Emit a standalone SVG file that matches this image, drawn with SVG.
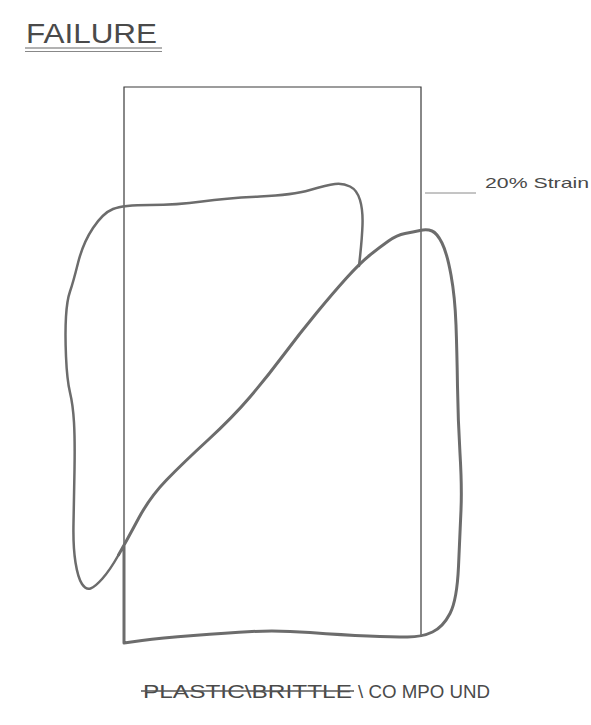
<svg xmlns="http://www.w3.org/2000/svg" width="591" height="725" viewBox="0 0 591 725">
<style>
.frame{fill:none;stroke:#3a3a3a;stroke-width:1.2}
.curve{fill:none;stroke:#6c6c6c;stroke-linecap:round;stroke-linejoin:round}
.lbl{font-family:"Liberation Sans",Arial,sans-serif;fill:#4a4a4a}
</style>
<rect width="591" height="725" fill="#ffffff"/>
<g id="title">
<text class="lbl" x="26" y="43" font-size="27" textLength="131" lengthAdjust="spacingAndGlyphs" style="font-weight:300">FAILURE</text>
<line x1="25" y1="48" x2="162" y2="48" stroke="#666" stroke-width="1.2"/>
<line x1="25" y1="51.5" x2="162" y2="51.5" stroke="#888" stroke-width="1"/>
</g>
<g id="frame">
<path class="frame" d="M124,643 L124,87 L421,87 L421,637"/>
</g>
<g id="strain-label">
<line x1="425" y1="193" x2="476" y2="193" stroke="#8a8a8a" stroke-width="1"/>
<text class="lbl" x="485" y="188" font-size="15" textLength="104" lengthAdjust="spacingAndGlyphs">20% Strain</text>
</g>
<g id="curves">
<path id="compound" class="curve" stroke-width="3" d="M124,545 L124,643 L142,640.5 Q160,638 193.5,635.5 Q227,633 252,631.5 Q277,630 310,632.5 Q343,635 368,636 Q393,637 407.5,637 Q422,637 432.5,632 Q443,627 450,613.5 Q457,600 458.5,566.5 Q460,533 461,510 Q462,487 460,453.5 Q458,420 457.5,386.5 Q457,353 456,325 Q455,297 451,275 Q447,253 442,243 Q437,233 432,231 Q427,229 420,230.5 Q413,232 405,233.5 Q397,235 388.5,241 Q380,247 370,255 Q360,263 346.5,278 Q333,293 316.5,313 Q300,333 283.5,355 Q267,377 250,397 Q233,417 208,440 Q183,463 166.5,480 Q150,497 138.5,518.5 Q127,540 118.5,555"/>
<path id="plastic" class="curve" stroke-width="2.5" d="M118.5,555 Q110,570 102.5,578.5 Q95,587 90.5,588.5 Q86,590 82,584 Q78,578 75.5,562.5 Q73,547 73.5,523.5 Q74,500 74.5,470 Q75,440 74,422.5 Q73,405 70,392.5 Q67,380 66,356.5 Q65,333 66,316.5 Q67,300 70,291.5 Q73,283 78,263 Q83,243 93,228 Q103,213 113,209 Q123,205 150,205 Q177,205 202,201.5 Q227,198 260,196.5 Q293,195 310,190 Q327,185 335,184 Q343,183 350,186.5 Q357,190 360,200 Q363,210 362.5,225 Q362,240 359,266"/>
</g>
<g id="caption">
<text class="lbl" x="143" y="698" font-size="19" textLength="209" lengthAdjust="spacingAndGlyphs">PLASTIC\BRITTLE</text>
<line x1="141" y1="691" x2="354" y2="691" stroke="#555" stroke-width="1.5"/>
<text class="lbl" x="358" y="698" font-size="19" textLength="132" lengthAdjust="spacingAndGlyphs">\ CO MPO UND</text>
</g>
</svg>
